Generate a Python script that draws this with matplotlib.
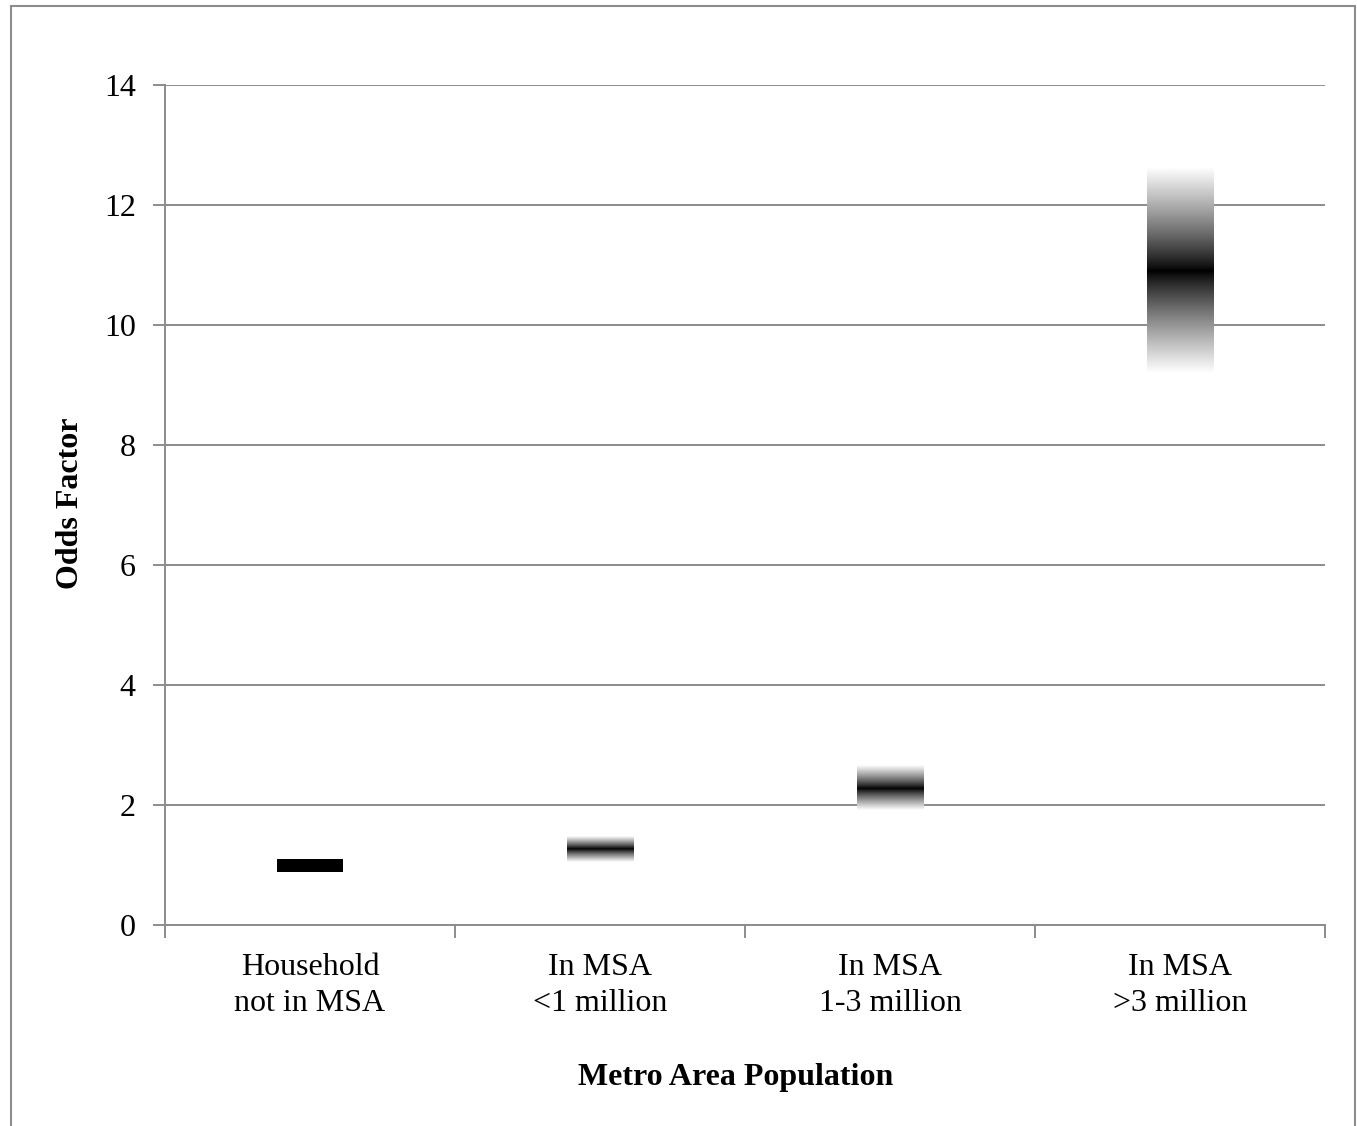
import matplotlib.pyplot as plt
import numpy as np
from matplotlib.patches import Rectangle

# odds factor estimates with confidence range
categories = ["Household\nnot in MSA", "In MSA\n<1 million", "In MSA\n1-3 million", "In MSA\n>3 million"]
odds_mid = [1.0, 1.27, 2.28, 10.9]
odds_low = [0.88, 1.05, 1.92, 9.2]
odds_high = [1.1, 1.48, 2.67, 12.63]
is_reference = [True, False, False, False]

plt.rcParams['font.family'] = ['Liberation Serif', 'DejaVu Serif']

fig = plt.figure(figsize=(13.57, 11.26), dpi=100)
ax = fig.add_axes([165 / 1357, 1 - 925 / 1126, 1160 / 1357, 840 / 1126])

grid_color = "#8c8c8c"
bar_w = 0.23
fs = 23

for i, cat in enumerate(categories):
    x0 = i + 0.5 - bar_w / 2
    x1 = i + 0.5 + bar_w / 2
    lo, mid, hi = odds_low[i], odds_mid[i], odds_high[i]
    if is_reference[i]:
        ax.add_patch(Rectangle((x0, lo), x1 - x0, hi - lo, color="black", zorder=3, lw=0))
        continue
    ys = np.linspace(lo, hi, 400)
    t = np.where(ys >= mid, (ys - mid) / (hi - mid), (mid - ys) / (mid - lo))
    shade = np.clip(t, 0, 1) ** 0.85
    img = np.tile(shade[:, None], (1, 2))
    ax.imshow(img, extent=[x0, x1, lo, hi], origin="lower", aspect="auto",
              cmap="gray", vmin=0, vmax=1, zorder=3, interpolation="bilinear")

ax.set_xlim(0, 4)
ax.set_ylim(0, 14)
ax.set_yticks(range(0, 15, 2))
ax.yaxis.grid(True, color=grid_color, lw=1.4)
ax.set_axisbelow(True)

ax.set_xticks(range(0, 5))
ax.set_xticklabels([])
ax.set_xticks([i + 0.5 for i in range(4)], minor=True)
ax.set_xticklabels(categories, minor=True, fontsize=fs, linespacing=1.35)
ax.tick_params(axis="x", which="minor", length=0, pad=20)
ax.tick_params(axis="x", which="major", length=9, width=1.4, color=grid_color, direction="out")
ax.tick_params(axis="y", length=9, width=1.4, color=grid_color, labelsize=fs, pad=12)

for side in ["top", "right"]:
    ax.spines[side].set_visible(False)
for side in ["left", "bottom"]:
    ax.spines[side].set_color(grid_color)
    ax.spines[side].set_linewidth(1.4)

fig.text(70 / 1357, 1 - 503 / 1126, "Odds Factor", rotation=90, fontsize=fs,
         fontweight="bold", ha="center", va="center")
fig.text(736 / 1357, 1 - 1078 / 1126, "Metro Area Population", fontsize=fs,
         fontweight="bold", ha="center", va="center")

# outer chart border
fig.patches.append(Rectangle((11 / 1357, -0.01), 1344 / 1357, 1 - 6 / 1126 + 0.01,
                             transform=fig.transFigure, fill=False,
                             edgecolor=grid_color, lw=1.5))

plt.savefig("out.png", dpi=100)
